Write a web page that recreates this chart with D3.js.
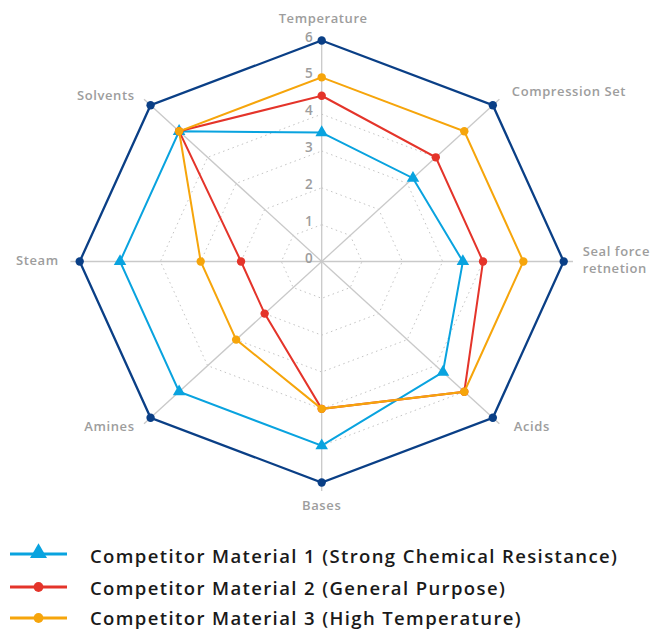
<!DOCTYPE html>
<html>
<head>
<meta charset="utf-8">
<script src="https://cdn.jsdelivr.net/npm/d3@7"></script>
<style>
  html, body { margin: 0; padding: 0; background: #fff; }
  svg { display: block; }
  text { font-family: "Open Sans", "Noto Sans", sans-serif; }
</style>
</head>
<body>
<svg id="chart" width="655" height="629"></svg>
<script>
// ---- data ----
const axes = ["Temperature", "Compression Set", "Seal force\nretnetion", "Acids", "Bases", "Amines", "Steam", "Solvents"];
const tickValues = [0, 1, 2, 3, 4, 5, 6];
const outerValues = [6, 6, 6, 6, 6, 6, 6, 6];
const material1 = [3.5, 3.2, 3.5, 4.25, 5, 5, 5, 5];
const material2 = [4.5, 4, 4, 5, 4, 2, 2, 5];
const material3 = [5, 5, 5, 5, 4, 3, 3, 5];
const seriesNames = [
  "Competitor Material 1 (Strong Chemical Resistance)",
  "Competitor Material 2 (General Purpose)",
  "Competitor Material 3 (High Temperature)"
];

// ---- layout ----
const svg = d3.select("#chart");
const cx = 321.7, cy = 261.5;
const rx = d3.scaleLinear().domain([0, 6]).range([0, 242]);
const ry = d3.scaleLinear().domain([0, 6]).range([0, 221]);
const angle = i => (-90 + 45 * i) * Math.PI / 180;
const pt = (v, i) => [cx + rx(v) * Math.cos(angle(i)), cy + ry(v) * Math.sin(angle(i))];

const navy = "#0a3f86", blue = "#09a3df", red = "#e4342a", orange = "#f6a50b";
const grey = "#c9c9c9", labelGrey = "#9d9d9d";

// grid rings (dotted)
const g = svg.append("g");
[1, 2, 3, 4, 5].forEach(v => {
  g.append("polygon")
    .attr("points", axes.map((a, i) => pt(v, i).join(",")).join(" "))
    .attr("fill", "none")
    .attr("stroke", "#c4c4c4")
    .attr("stroke-width", 1)
    .attr("stroke-dasharray", "1.5,3.5");
});

// axis lines
axes.forEach((a, i) => {
  const end = pt(i === 0 ? 6 : 6.23, i);
  g.append("line")
    .attr("x1", cx).attr("y1", cy)
    .attr("x2", end[0]).attr("y2", end[1])
    .attr("stroke", grey).attr("stroke-width", 1.3);
});

// tick labels
g.selectAll(".tick").data(tickValues).enter().append("text")
  .attr("x", cx - 9)
  .attr("y", d => cy - ry(d) - 4)
  .attr("text-anchor", "end")
  .attr("dominant-baseline", "central")
  .attr("font-size", 13.5)
  .attr("font-weight", 600)
  .attr("fill", labelGrey)
  .text(d => d);

// axis labels
const labelOffsets = [
  { dx: 1.5, dy: -22, anchor: "middle" },
  { dx: 19, dy: -14, anchor: "start" },
  { dx: 19, dy: -3, anchor: "start" },
  { dx: 21, dy: 9, anchor: "start" },
  { dx: 0, dy: 23, anchor: "middle" },
  { dx: -16, dy: 9, anchor: "end" },
  { dx: -21, dy: -1, anchor: "end" },
  { dx: -16, dy: -10, anchor: "end" }
];
const axisFont = 13;
const labels = [];
axes.forEach((a, i) => {
  const p = pt(6, i), o = labelOffsets[i];
  const lines = a.split("\n");
  const t = g.append("text")
    .attr("x", p[0] + o.dx)
    .attr("y", p[1] + o.dy)
    .attr("text-anchor", o.anchor)
    .attr("font-size", axisFont)
    .attr("font-weight", 600)
    .attr("fill", labelGrey);
  lines.forEach((l, k) => {
    t.append("tspan")
      .attr("x", p[0] + o.dx)
      .attr("dy", k === 0 ? (lines.length > 1 ? "-0.2em" : "0.35em") : "1.35em")
      .text(l);
  });
  labels.push(t);
});
// widen axis labels to match reference glyph width ("Temperature" ≈ 89px)
{
  const w = labels[0].node().getComputedTextLength();
  const ls = Math.max(0, (89 - w) / 11);
  labels.forEach(t => t.attr("letter-spacing", ls));
}

// series
const line = d3.line().curve(d3.curveLinearClosed);
function drawSeries(values, color, marker, width) {
  const pts = values.map((v, i) => pt(v, i));
  svg.append("path")
    .attr("d", line(pts))
    .attr("fill", "none")
    .attr("stroke", color)
    .attr("stroke-width", width)
    .attr("stroke-linejoin", "miter");
  const sym = d3.symbol().type(marker === "triangle" ? d3.symbolTriangle : d3.symbolCircle)
    .size(marker === "triangle" ? 68 : 55);
  svg.append("g").selectAll("path").data(pts).enter().append("path")
    .attr("d", sym)
    .attr("transform", d => `translate(${d[0]},${d[1]})`)
    .attr("fill", color);
}
drawSeries(outerValues, navy, "circle", 2.3);
drawSeries(material1, blue, "triangle", 2);
drawSeries(material2, red, "circle", 2);
drawSeries(material3, orange, "circle", 2);

// legend
const legendColors = [blue, red, orange];
const legendMarkers = ["triangle", "circle", "circle"];
const legendLineY = [554, 587, 618];
const legendTextY = [563.3, 594.5, 625];
const lg = svg.append("g");
seriesNames.forEach((name, k) => {
  const y = legendLineY[k];
  lg.append("line").attr("x1", 10).attr("x2", 67).attr("y1", y).attr("y2", y)
    .attr("stroke", legendColors[k]).attr("stroke-width", 3);
  const sym = d3.symbol().type(legendMarkers[k] === "triangle" ? d3.symbolTriangle : d3.symbolCircle)
    .size(legendMarkers[k] === "triangle" ? 125 : 75);
  lg.append("path").attr("d", sym).attr("transform", `translate(38.5,${y - (k === 0 ? 1 : 0)})`)
    .attr("fill", legendColors[k]);
  lg.append("text")
    .attr("class", "legtext")
    .attr("x", 90).attr("y", legendTextY[k])
    .attr("font-size", 18.5)
    .attr("font-weight", 600)
    .attr("fill", "#1a1a1a")
    .text(name);
});
// widen legend text to match reference width (first entry ≈ 527px)
{
  const first = lg.select(".legtext").node();
  const w = first.getComputedTextLength();
  const ls = Math.max(0, (527 - w) / (seriesNames[0].length - 1));
  lg.selectAll(".legtext").attr("letter-spacing", ls);
}
</script>
</body>
</html>
